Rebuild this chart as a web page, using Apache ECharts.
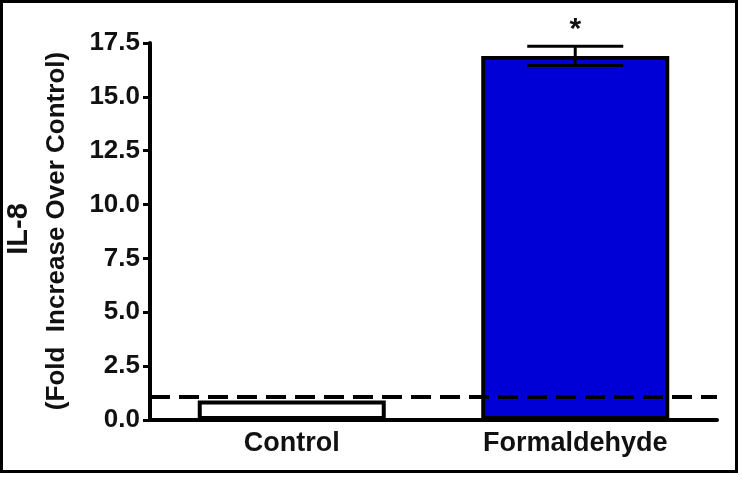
<!DOCTYPE html>
<html>
<head>
<meta charset="utf-8">
<script src="https://cdn.jsdelivr.net/npm/echarts@6/dist/echarts.min.js"></script>
<style>
	html, body { margin: 0; padding: 0; background: #fff; }
	#main { width: 742px; height: 480px; }
</style>
</head>
<body>
<div id="main"></div>
<script>
// values
const categories = ["Control", "Formaldehyde"];
const means = [0.9, 16.9];
const errors = [0, 0.45];
const marks = ["", "*"];
const barColors = ["#ffffff", "#0000d6"];
const baselineValue = 1.1;

const font = "'Liberation Sans', Arial, sans-serif";

let myChart = echarts.init(document.getElementById("main"));

let options = {
	animation: false,
	backgroundColor: "#ffffff",
	grid: { left: 150, right: 25, top: 43, bottom: 60 },
	xAxis: {
		type: "category",
		data: categories,
		axisLine: { lineStyle: { color: "#000", width: 4 } },
		axisTick: { alignWithLabel: true, length: 8, lineStyle: { color: "#000", width: 3 } },
		axisLabel: { color: "#111", fontFamily: font, fontWeight: "bold", fontSize: 27, margin: 10 },
	},
	yAxis: {
		type: "value",
		min: 0,
		max: 17.5,
		interval: 2.5,
		splitLine: { show: false },
		axisLine: { show: true, lineStyle: { color: "#000", width: 4 } },
		axisTick: { show: true, length: 7, lineStyle: { color: "#000", width: 3 } },
		axisLabel: {
			color: "#111",
			fontFamily: font,
			fontWeight: "bold",
			fontSize: 26,
			margin: 10,
			formatter: (v) => v.toFixed(1),
		},
	},
	graphic: [
		{
			type: "rect",
			shape: { x: 1.5, y: 1.5, width: 735, height: 470 },
			style: { fill: "none", stroke: "#000", lineWidth: 3 },
		},
		{
			type: "text",
			x: 19,
			y: 229,
			rotation: Math.PI / 2,
			style: {
				text: "IL-8",
				fill: "#111",
				font: "bold 29px " + font,
				align: "center",
				verticalAlign: "middle",
			},
		},
		{
			type: "text",
			x: 57,
			y: 231,
			rotation: Math.PI / 2,
			style: {
				text: "(Fold  Increase Over Control)",
				fill: "#111",
				font: "bold 26px " + font,
				align: "center",
				verticalAlign: "middle",
			},
		},
	],
	series: [
		{
			name: "IL-8",
			type: "bar",
			barWidth: 188,
			data: means.map((m, i) => ({
				value: m,
				itemStyle: { color: barColors[i], borderColor: "#000", borderWidth: 4 },
			})),
			markLine: {
				silent: true,
				symbol: "none",
				label: { show: false },
				lineStyle: { color: "#000", width: 4, type: [20, 9] },
				data: [{ yAxis: baselineValue }],
			},
		},
		{
			name: "error",
			type: "custom",
			z: 5,
			data: means.map((m, i) => [i, m, errors[i]]),
			renderItem: (params, api) => {
				const i = api.value(0);
				const m = api.value(1);
				const e = api.value(2);
				const children = [];
				if (e > 0) {
					const top = api.coord([i, m + e]);
					const bot = api.coord([i, m - e]);
					const half = 48;
					children.push(
						{ type: "line", shape: { x1: top[0], y1: top[1], x2: bot[0], y2: bot[1] }, style: { stroke: "#000", lineWidth: 3 } },
						{ type: "line", shape: { x1: top[0] - half, y1: top[1], x2: top[0] + half, y2: top[1] }, style: { stroke: "#000", lineWidth: 3 } },
						{ type: "line", shape: { x1: bot[0] - half, y1: bot[1], x2: bot[0] + half, y2: bot[1] }, style: { stroke: "#000", lineWidth: 3 } }
					);
				}
				if (marks[i]) {
					const top = api.coord([i, m + e]);
					children.push({
						type: "text",
						style: {
							text: marks[i],
							x: top[0],
							y: top[1] - 16,
							fill: "#111",
							font: "bold 30px " + font,
							align: "center",
							verticalAlign: "middle",
						},
					});
				}
				return { type: "group", children: children };
			},
		},
	],
};

myChart.setOption(options);
</script>
</body>
</html>
